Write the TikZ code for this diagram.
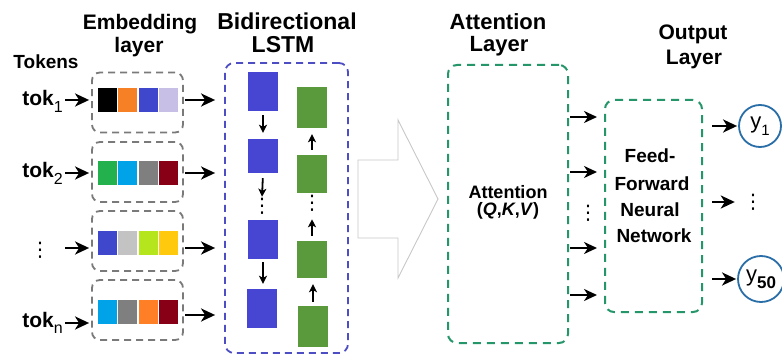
\documentclass[tikz,border=0pt]{standalone}
\usepackage{fontspec}
\setmainfont{Liberation Sans}
\newfontfamily\dejavu{DejaVu Sans}
\usepackage{graphicx}
\usetikzlibrary{arrows.meta}
\definecolor{dashgray}{HTML}{7A7A7A}
\definecolor{lstmdash}{HTML}{4E4EC4}
\definecolor{cellblue}{HTML}{4646D2}
\definecolor{cellgreen}{HTML}{5A9A3C}
\definecolor{attgreen}{HTML}{25966A}
\definecolor{circblue}{HTML}{2A6EA8}
\definecolor{hollowgray}{HTML}{C8C8C8}
\definecolor{pOrange}{HTML}{F58025}
\definecolor{pBlue}{HTML}{3F48CC}
\definecolor{pLav}{HTML}{C8BFE7}
\definecolor{pGreen}{HTML}{22B14C}
\definecolor{pCyan}{HTML}{00A2E8}
\definecolor{pGray}{HTML}{7F7F7F}
\definecolor{pRed}{HTML}{880015}
\definecolor{pLGray}{HTML}{C3C3C3}
\definecolor{pLime}{HTML}{B5E61D}
\definecolor{pYellow}{HTML}{FFC90E}
\definecolor{pOrange2}{HTML}{FF7F27}
\newcommand\fsz[1]{\fontsize{#1}{#1}\selectfont}
\newcommand\mydots{{\dejavu\fsz{20}⋮}}
\begin{document}
\begin{tikzpicture}[x=1pt,y=-1pt,
  title/.style={font=\bfseries\fsz{21}, inner sep=0pt, anchor=base},
  toklabel/.style={font=\bfseries\fsz{21}, inner sep=0pt, anchor=base east},
  embbox/.style={draw=dashgray, dash pattern=on 7pt off 5pt, line width=1.8pt, rounded corners=8pt, minimum width=91, minimum height=60, inner sep=0pt},
  cell/.style={minimum width=19, minimum height=24, inner sep=0pt},
  lcell/.style={minimum width=30, inner sep=0pt},
  lstmbox/.style={draw=lstmdash, dash pattern=on 7pt off 5pt, line width=1.8pt, rounded corners=9pt, inner sep=0pt},
  attbox/.style={draw=attgreen, dash pattern=on 8pt off 6pt, line width=2pt, rounded corners=9pt, inner sep=0pt},
  bigarrow/.style={-{Stealth[length=14pt,width=13pt,inset=4pt]}, line width=2.6pt, black},
  medarrow/.style={-{Stealth[length=13pt,width=12pt,inset=4pt]}, line width=2.2pt, black},
  smallarrow/.style={-{Stealth[length=8pt,width=8pt,inset=2pt]}, line width=1.8pt, black},
  dotnode/.style={inner sep=0pt},
  ffntext/.style={inner sep=0pt, anchor=base, font=\bfseries\fsz{19}},
  outcirc/.style={circle, draw=circblue, line width=1.8pt, inner sep=0pt}
]
\useasboundingbox (0,0) rectangle (782,358);
\fill[white] (0,0) rectangle (782,358);

% titles
\node[title] (tEmb) at (140,30) {Embedding};
\node[title] (tEmb2) at (139,53) {layer};
\node[title, font=\bfseries\fsz{19}] (tTok) at (46,69) {Tokens};
\node[title, font=\bfseries\fsz{23}] (tBi) at (287,30) {Bidirectional};
\node[title, font=\bfseries\fsz{23}] (tBi2) at (283,53) {LSTM};
\node[title, font=\bfseries\fsz{22}] (tAtt) at (498,30) {Attention};
\node[title, font=\bfseries\fsz{22}] (tAtt2) at (499,52) {Layer};
\node[title] (tOut) at (693,40) {Output};
\node[title] (tOut2) at (694,65) {Layer};

% token labels
\node[toklabel] (tok1) at (63,106) {tok\raisebox{-0.3em}{\mdseries\fsz{16}1}};
\node[toklabel] (tok2) at (63,178) {tok\raisebox{-0.3em}{\mdseries\fsz{16}2}};
\node[dotnode] (tokd) at (40,250) {\mydots};
\node[toklabel] (tokn) at (63,327) {tok\raisebox{-0.3em}{\mdseries\fsz{16}n}};

% embedding boxes
\node[embbox] (emb1) at (137.5,102.5) {};
\node[embbox] (emb2) at (137.5,172) {};
\node[embbox] (emb3) at (137.5,241) {};
\node[embbox] (emb4) at (137.5,310) {};

% cells
\node[cell, fill=black]   (e1a) at (107,100) {};
\node[cell, fill=pOrange] (e1b) at (127.5,100) {};
\node[cell, fill=pBlue]   (e1c) at (148,100) {};
\node[cell, fill=pLav]    (e1d) at (168.5,100) {};
\node[cell, fill=pGreen]  (e2a) at (107,173) {};
\node[cell, fill=pCyan]   (e2b) at (127.5,173) {};
\node[cell, fill=pGray]   (e2c) at (148,173) {};
\node[cell, fill=pRed]    (e2d) at (168.5,173) {};
\node[cell, fill=pBlue]   (e3a) at (107,243) {};
\node[cell, fill=pLGray]  (e3b) at (127.5,243) {};
\node[cell, fill=pLime]   (e3c) at (148,243) {};
\node[cell, fill=pYellow] (e3d) at (168.5,243) {};
\node[cell, fill=pCyan]   (e4a) at (107,312) {};
\node[cell, fill=pGray]   (e4b) at (127.5,312) {};
\node[cell, fill=pOrange2](e4c) at (148,312) {};
\node[cell, fill=pRed]    (e4d) at (168.5,312) {};

% token arrows
\coordinate (ta1) at (65,100);
\coordinate (ta2) at (65,173);
\coordinate (ta3) at (65,248);
\coordinate (ta4) at (65,323);
\draw[bigarrow, shorten >=2pt] (ta1) -- (ta1 -| emb1.west);
\draw[bigarrow, shorten >=2pt] (ta2) -- (ta2 -| emb2.west);
\draw[bigarrow, shorten >=2pt] (ta3) -- (ta3 -| emb3.west);
\draw[bigarrow, shorten >=2pt] (ta4) -- (ta4 -| emb4.west);

% LSTM box
\node[lstmbox, minimum width=123, minimum height=290] (lstm) at (286.5,208) {};

% blue cells
\node[lcell, fill=cellblue, minimum height=39] (b1) at (263,91.5) {};
\node[lcell, fill=cellblue, minimum height=34] (b2) at (263,156) {};
\node[lcell, fill=cellblue, minimum height=39] (b3) at (263,239.5) {};
\node[lcell, fill=cellblue, minimum height=39] (b4) at (262,308.5) {};
% green cells
\node[lcell, fill=cellgreen, minimum height=41] (g1) at (312,107.5) {};
\node[lcell, fill=cellgreen, minimum height=38] (g2) at (312,174) {};
\node[lcell, fill=cellgreen, minimum height=37] (g3) at (312,259.5) {};
\node[lcell, fill=cellgreen, minimum height=41] (g4) at (313,326.5) {};
\node[dotnode] (bdots) at (262,206) {\mydots};
\node[dotnode] (gdots) at (312,203) {\mydots};

\draw[smallarrow, shorten <=4pt, shorten >=6pt] (b1.south) -- (b2.north);
\draw[smallarrow, shorten <=5pt, shorten >=1pt] (b2.south) -- (bdots.north);
\draw[smallarrow, shorten <=3pt, shorten >=5pt] (b3.south) -- (b3.south |- b4.north);
\draw[smallarrow, shorten <=5pt, shorten >=6pt] (g2.north) -- (g1.south);
\draw[smallarrow, shorten <=5pt, shorten >=8pt] (g3.north) -- (gdots.south);
\draw[smallarrow, shorten <=4pt, shorten >=6pt] (g4.north) -- (g4.north |- g3.south);

% emb -> lstm arrows
\coordinate (la1) at (185,100);
\coordinate (la2) at (185,173);
\coordinate (la3) at (185,248);
\coordinate (la4) at (185,315);
\draw[bigarrow, shorten >=9pt] (la1) -- (la1 -| lstm.west);
\draw[bigarrow, shorten >=9pt] (la2) -- (la2 -| lstm.west);
\draw[bigarrow, shorten >=9pt] (la3) -- (la3 -| lstm.west);
\draw[bigarrow, shorten >=9pt] (la4) -- (la4 -| lstm.west);

% hollow arrow
\draw[hollowgray, line width=0.9pt, line join=miter] (358,160) -- (398,160) -- (398,120) -- (438,199) -- (398,278) -- (398,238) -- (358,238) -- cycle;

% attention box
\node[attbox, minimum width=120, minimum height=278] (att) at (508,204) {};
\node[inner sep=0pt, anchor=base, font=\bfseries\fsz{18}] (attT) at (508,199) {Attention};
\node[inner sep=0pt, anchor=base, font=\bfseries\fsz{18}] (attT2) at (508,216) {(\textit{Q},\textit{K},\textit{V})};

% ffn box
\node[attbox, minimum width=97, minimum height=212] (ffn) at (653.5,206) {};
\node[ffntext] (ffn1) at (650,163) {Feed-};
\node[ffntext] (ffn2) at (652,191) {Forward};
\node[ffntext] (ffn3) at (650,217) {Neural};
\node[ffntext] (ffn4) at (654,243) {Network};

% att -> ffn arrows
\coordinate (aa1) at (570,117);
\coordinate (aa2) at (570,172);
\coordinate (aa3) at (570,248);
\coordinate (aa4) at (570,295);
\draw[medarrow, shorten >=7pt] (aa1) -- (aa1 -| ffn.west);
\draw[medarrow, shorten >=7pt] (aa2) -- (aa2 -| ffn.west);
\draw[medarrow, shorten >=7pt] (aa3) -- (aa3 -| ffn.west);
\draw[medarrow, shorten >=7pt] (aa4) -- (aa4 -| ffn.west);
\node[dotnode] (adots) at (588,213) {\mydots};

% outputs
\node[outcirc, minimum size=42] (y1) at (760,126) {\fsz{22}y\raisebox{-0.3em}{\fsz{15}1}};
\node[outcirc, minimum size=46] (y50) at (761,279) {\fsz{22}y\raisebox{-0.3em}{\bfseries\fsz{17}50}};
\node[dotnode] (ydots) at (753,202) {\mydots};
\coordinate (oa1) at (712,126);
\coordinate (oa2) at (712,202);
\coordinate (oa3) at (712,279);
\draw[bigarrow, shorten >=1pt] (oa1) -- (y1.west);
\draw[bigarrow, shorten >=8pt] (oa2) -- (ydots.west);
\draw[bigarrow, shorten >=1pt] (oa3) -- (y50.west);
\end{tikzpicture}
\end{document}
